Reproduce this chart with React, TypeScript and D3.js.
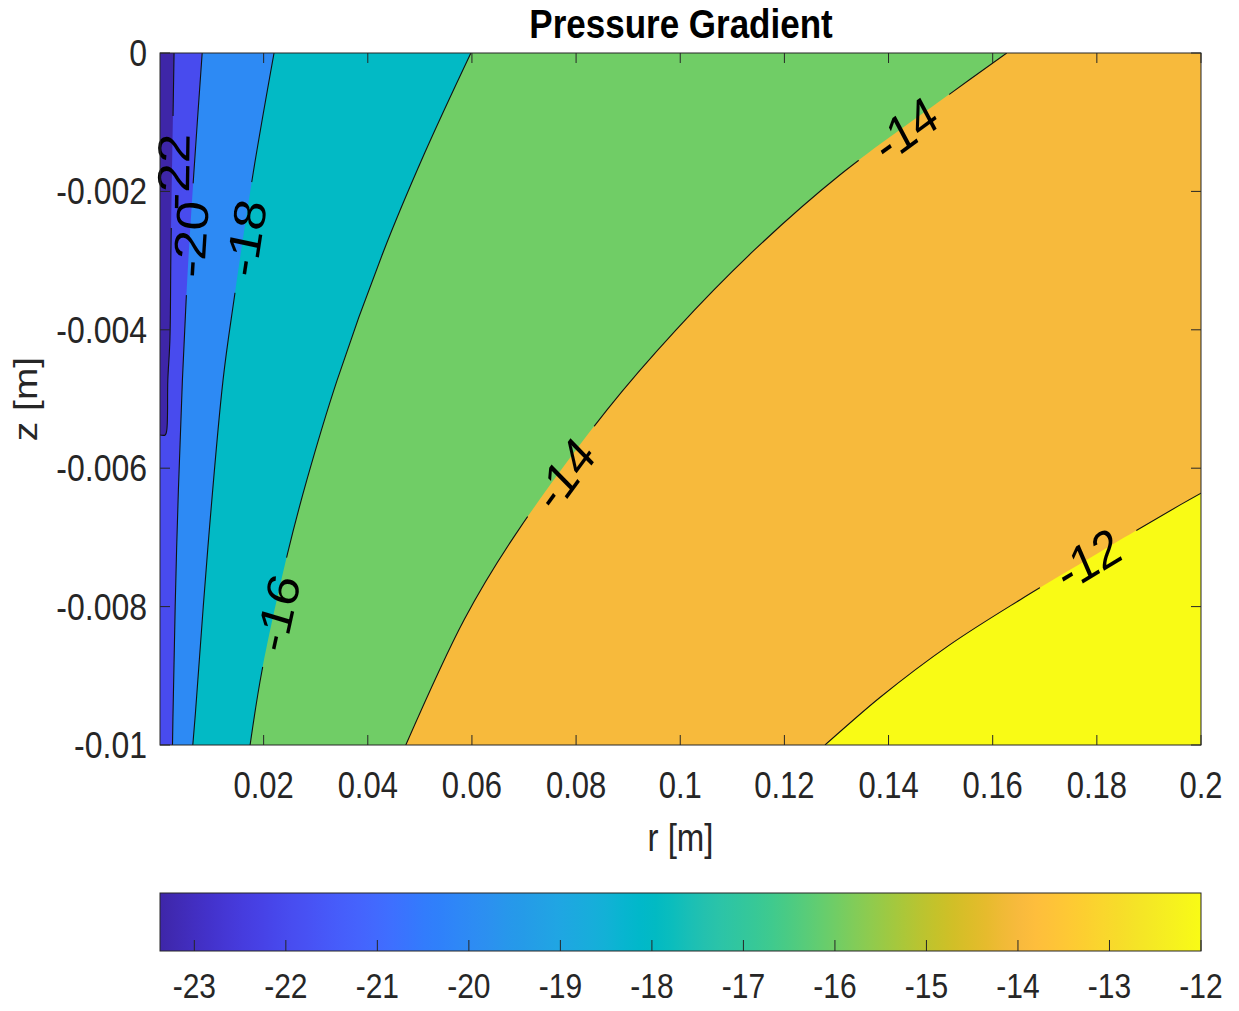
import React from "react";
import * as d3 from "d3";

// ---------- chart content ----------
const TITLE = "Pressure Gradient";
const X_LABEL = "r [m]";
const Y_LABEL = "z [m]";

const R_DOMAIN: [number, number] = [0.0001, 0.2];
const Z_DOMAIN: [number, number] = [-0.01, 0];
const R_TICKS = [0.02, 0.04, 0.06, 0.08, 0.1, 0.12, 0.14, 0.16, 0.18, 0.2];
const R_TICK_LABELS = ["0.02", "0.04", "0.06", "0.08", "0.1", "0.12", "0.14", "0.16", "0.18", "0.2"];
const Z_TICKS = [0, -0.002, -0.004, -0.006, -0.008, -0.01];
const Z_TICK_LABELS = ["0", "-0.002", "-0.004", "-0.006", "-0.008", "-0.01"];

const COLOR_LIMITS: [number, number] = [-23.375, -12];
const COLORBAR_TICKS = [-23, -22, -21, -20, -19, -18, -17, -16, -15, -14, -13, -12];
const COLORBAR_TICK_LABELS = ["-23", "-22", "-21", "-20", "-19", "-18", "-17", "-16", "-15", "-14", "-13", "-12"];

const LEVELS = [-22, -20, -18, -16, -14, -12];

// iso-lines of the pressure gradient, traced as [r, z] pairs
const ISO_M22: [number, number][] = [
  [0.0028, 0], [0.0022, -0.00285], [0.002, -0.00415], [0.0016, -0.00473],
  [0.0014, -0.00545], [0.0011, -0.00552], [0.0001, -0.00552],
];
const ISO_M20: [number, number][] = [
  [0.0082, 0], [0.0066, -0.00173], [0.0054, -0.00318], [0.0044, -0.00473],
  [0.0033, -0.00714], [0.0026, -0.00954], [0.0025, -0.01],
];
const ISO_M18: [number, number][] = [
  [0.022, 0], [0.018, -0.00173], [0.0143, -0.00357], [0.0122, -0.00473],
  [0.0093, -0.00714], [0.0069, -0.00954], [0.0064, -0.01],
];
const ISO_M16: [number, number][] = [
  [0.0598, 0], [0.0509, -0.00145], [0.0429, -0.00289], [0.0341, -0.00473],
  [0.0283, -0.00617], [0.0246, -0.00723], [0.0197, -0.00892], [0.0174, -0.01],
];
const ISO_M14: [number, number][] = [
  [0.1627, 0], [0.1518, -0.00059], [0.1307, -0.00176], [0.1142, -0.00285],
  [0.0992, -0.004], [0.0859, -0.00516], [0.0679, -0.00701], [0.0585, -0.00819],
  [0.0473, -0.01],
];
const ISO_M12: [number, number][] = [
  [0.2, -0.00636], [0.196, -0.00653], [0.1806, -0.00721], [0.1653, -0.0079],
  [0.1518, -0.00855], [0.1384, -0.00931], [0.1278, -0.01],
];
const ISO_LINES = [ISO_M22, ISO_M20, ISO_M18, ISO_M16, ISO_M14, ISO_M12];

// inline labels placed on the iso-lines
const LABEL_LEVELS = [-22, -20, -18, -16, -14, -14, -12];
const LABEL_R = [0.0026, 0.0059, 0.0165, 0.0226, 0.1432, 0.0777, 0.1783];
const LABEL_Z = [-0.00172, -0.00269, -0.00267, -0.00809, -0.0011, -0.00608, -0.00731];

// parula colormap (64 entries)
const PARULA: [number, number, number][] = [
  [0.2422, 0.1504, 0.6603], [0.2504, 0.165, 0.7076], [0.2578, 0.1818, 0.7511], [0.2647, 0.1978, 0.7952],
  [0.2706, 0.2147, 0.8364], [0.2751, 0.2342, 0.871], [0.2783, 0.2559, 0.8991], [0.2803, 0.2782, 0.9221],
  [0.2813, 0.3006, 0.9414], [0.281, 0.3228, 0.9579], [0.2795, 0.3447, 0.9717], [0.276, 0.3667, 0.9829],
  [0.2699, 0.3892, 0.9906], [0.2602, 0.4123, 0.9952], [0.244, 0.4358, 0.9988], [0.2206, 0.4603, 0.9973],
  [0.1963, 0.4847, 0.9892], [0.1834, 0.5074, 0.9798], [0.1786, 0.5289, 0.9682], [0.1764, 0.5499, 0.952],
  [0.1687, 0.5703, 0.9359], [0.154, 0.5902, 0.9218], [0.146, 0.6091, 0.9079], [0.138, 0.6276, 0.8973],
  [0.1248, 0.6459, 0.8883], [0.1113, 0.6635, 0.8763], [0.0952, 0.6798, 0.8598], [0.0689, 0.6948, 0.8394],
  [0.0297, 0.7082, 0.8163], [0.0036, 0.7203, 0.7917], [0.0067, 0.7312, 0.766], [0.0433, 0.7411, 0.7394],
  [0.0964, 0.75, 0.712], [0.1408, 0.7584, 0.6842], [0.1717, 0.767, 0.6554], [0.1938, 0.7758, 0.6251],
  [0.2161, 0.7843, 0.5923], [0.247, 0.7918, 0.5567], [0.2906, 0.7973, 0.5188], [0.3406, 0.8008, 0.4789],
  [0.3909, 0.8029, 0.4354], [0.4456, 0.8024, 0.3909], [0.5044, 0.7993, 0.348], [0.5616, 0.7942, 0.3045],
  [0.6174, 0.7876, 0.2612], [0.672, 0.7793, 0.2227], [0.7242, 0.7698, 0.191], [0.7738, 0.7598, 0.1646],
  [0.8203, 0.7498, 0.1535], [0.8634, 0.7406, 0.1596], [0.9035, 0.733, 0.1774], [0.9393, 0.7288, 0.21],
  [0.9728, 0.7298, 0.2394], [0.9956, 0.7434, 0.2371], [0.997, 0.7659, 0.2199], [0.9952, 0.7893, 0.2028],
  [0.9892, 0.8136, 0.1885], [0.9786, 0.8386, 0.1766], [0.9676, 0.8639, 0.1643], [0.961, 0.889, 0.1537],
  [0.9597, 0.9135, 0.1423], [0.9628, 0.9373, 0.1265], [0.9691, 0.9606, 0.1064], [0.9769, 0.9839, 0.0805],
];

// ---------- layout ----------
const WIDTH = 1239;
const HEIGHT = 1011;
const PLOT = { l: 160, r: 1201, t: 53, b: 745 };
const CBAR = { l: 160, r: 1201, t: 893, b: 951 };
const STRETCH = 1.18; // glyphs are drawn slightly tall
const FONT = "'Liberation Sans', Arial, Helvetica, sans-serif";
const INK = "#262626";
const TICK = 10;

const x = d3.scaleLinear().domain(R_DOMAIN).range([PLOT.l, PLOT.r]);
const y = d3.scaleLinear().domain(Z_DOMAIN).range([PLOT.b, PLOT.t]);
const cx = d3.scaleLinear().domain(COLOR_LIMITS).range([CBAR.l, CBAR.r]);

const parulaHex = PARULA.map(([r, g, b]) => d3.rgb(r * 255, g * 255, b * 255).formatHex());
const cmap = d3.piecewise(d3.interpolateRgb, parulaHex);
const tOf = d3.scaleLinear().domain(COLOR_LIMITS).range([0, 1]).clamp(true);
const colorAt = (v: number) => cmap(tOf(v));

const lineGen = d3
  .line<[number, number]>()
  .x((d) => x(d[0]))
  .y((d) => y(d[1]))
  .curve(d3.curveCatmullRom.alpha(0.5));

const PW = PLOT.r - PLOT.l;
const PH = PLOT.b - PLOT.t;
const PERIM = 2 * (PW + PH);

// clockwise position of a boundary point, starting at the top-left corner
function perimPos(px: number, py: number): number {
  const e = 0.6;
  if (Math.abs(py - PLOT.t) < e) return px - PLOT.l;
  if (Math.abs(px - PLOT.r) < e) return PW + (py - PLOT.t);
  if (Math.abs(py - PLOT.b) < e) return PW + PH + (PLOT.r - px);
  return 2 * PW + PH + (PLOT.b - py);
}
const CORNERS: [number, number, number][] = [
  [0, PLOT.l, PLOT.t],
  [PW, PLOT.r, PLOT.t],
  [PW + PH, PLOT.r, PLOT.b],
  [2 * PW + PH, PLOT.l, PLOT.b],
];

// polygon covering the higher-valued side of an iso-line
function regionPath(pts: [number, number][]): string {
  const first = pts[0];
  const last = pts[pts.length - 1];
  const pS = perimPos(x(first[0]), y(first[1]));
  let pE = perimPos(x(last[0]), y(last[1]));
  if (pE < pS) pE += PERIM;
  const cands: [number, number, number][] = [];
  for (const [p, cxp, cyp] of CORNERS) {
    for (const q of [p, p + PERIM]) {
      if (q > pS && q < pE) cands.push([q, cxp, cyp]);
    }
  }
  cands.sort((a, b) => b[0] - a[0]);
  return (lineGen(pts) || "") + cands.map((c) => `L${c[1]},${c[2]}`).join("") + "Z";
}

function labelPose(pts: [number, number][], r: number, z: number) {
  const px = pts.map((p) => [x(p[0]), y(p[1])]);
  const lx = x(r);
  const ly = y(z);
  let best = 0;
  let bd = Infinity;
  for (let i = 0; i < px.length - 1; i++) {
    const [ax, ay] = px[i];
    const [bx, by] = px[i + 1];
    const vx = bx - ax;
    const vy = by - ay;
    const t = Math.max(0, Math.min(1, ((lx - ax) * vx + (ly - ay) * vy) / (vx * vx + vy * vy)));
    const d = Math.hypot(ax + t * vx - lx, ay + t * vy - ly);
    if (d < bd) {
      bd = d;
      best = i;
    }
  }
  let dx = px[best + 1][0] - px[best][0];
  let dy = px[best + 1][1] - px[best][1];
  if (dx < 0 || (dx === 0 && dy > 0)) {
    dx = -dx;
    dy = -dy;
  }
  return {
    lx,
    ly,
    angle: (Math.atan2(dy, dx) * 180) / Math.PI,
    angleText: (Math.atan2(dy / STRETCH, dx) * 180) / Math.PI,
  };
}

function Txt(props: {
  x: number;
  y: number;
  size: number;
  anchor?: string;
  rotate?: number;
  weight?: string;
  fill?: string;
  children: string;
}) {
  const { x: tx, y: ty, size, anchor = "middle", rotate = 0, weight = "normal", fill = INK } = props;
  return (
    <text
      transform={`translate(${tx},${ty}) scale(1,${STRETCH}) rotate(${rotate})`}
      fontFamily={FONT}
      fontSize={size}
      fontWeight={weight}
      textAnchor={anchor}
      fill={fill}
    >
      {props.children}
    </text>
  );
}

export default function App() {
  const labels = LABEL_LEVELS.map((lev, i) => {
    const li = LEVELS.indexOf(lev);
    return { lev, li, ...labelPose(ISO_LINES[li], LABEL_R[i], LABEL_Z[i]) };
  });

  return (
    <svg
      width={WIDTH}
      height={HEIGHT}
      viewBox={`0 0 ${WIDTH} ${HEIGHT}`}
      style={{ position: "absolute", left: 0, top: 0, background: "#fff", display: "block" }}
    >
      <defs>
        <clipPath id="plot-clip">
          <rect x={PLOT.l} y={PLOT.t} width={PW} height={PH} />
        </clipPath>
        <linearGradient id="parula-grad" x1="0" x2="1" y1="0" y2="0">
          {parulaHex.map((c, i) => (
            <stop key={i} offset={i / (parulaHex.length - 1)} stopColor={c} />
          ))}
        </linearGradient>
        {LEVELS.map((lev, li) => (
          <mask key={lev} id={`gap-${li}`} maskUnits="userSpaceOnUse" x={0} y={0} width={WIDTH} height={HEIGHT}>
            <rect x={0} y={0} width={WIDTH} height={HEIGHT} fill="#fff" />
            {labels
              .filter((l) => l.li === li)
              .map((l, k) => (
                <rect
                  key={k}
                  x={-56}
                  y={-14}
                  width={112}
                  height={28}
                  fill="#000"
                  transform={`translate(${l.lx},${l.ly}) rotate(${l.angle})`}
                />
              ))}
          </mask>
        ))}
      </defs>

      {/* title */}
      <Txt x={681} y={38} size={35} weight="bold" fill="#000">
        {TITLE}
      </Txt>

      {/* filled contour bands */}
      <g clipPath="url(#plot-clip)">
        <rect x={PLOT.l} y={PLOT.t} width={PW} height={PH} fill={colorAt(COLOR_LIMITS[0])} />
        {ISO_LINES.map((pts, i) => (
          <path key={i} d={regionPath(pts)} fill={colorAt(LEVELS[i])} stroke="none" />
        ))}
        {ISO_LINES.map((pts, i) => (
          <path
            key={`l${i}`}
            d={lineGen(pts) || ""}
            fill="none"
            stroke="#111"
            strokeWidth={1.1}
            mask={`url(#gap-${i})`}
          />
        ))}
      </g>

      {/* inline level labels */}
      {labels.map((l, i) => (
        <text
          key={i}
          transform={`translate(${l.lx},${l.ly}) scale(1,${STRETCH}) rotate(${l.angleText})`}
          fontFamily={FONT}
          fontSize={45}
          textAnchor="middle"
          dy="0.36em"
          fill="#000"
        >
          {String(l.lev)}
        </text>
      ))}

      {/* ticks */}
      <g stroke={INK} strokeWidth={1}>
        {R_TICKS.map((t, i) => (
          <g key={i}>
            <line x1={x(t)} x2={x(t)} y1={PLOT.b} y2={PLOT.b - TICK} />
            <line x1={x(t)} x2={x(t)} y1={PLOT.t} y2={PLOT.t + TICK} />
          </g>
        ))}
        {Z_TICKS.map((t, i) => (
          <g key={i}>
            <line x1={PLOT.l} x2={PLOT.l + TICK} y1={y(t)} y2={y(t)} />
            <line x1={PLOT.r} x2={PLOT.r - TICK} y1={y(t)} y2={y(t)} />
          </g>
        ))}
      </g>
      <rect x={PLOT.l} y={PLOT.t} width={PW} height={PH} fill="none" stroke={INK} strokeWidth={1} />

      {/* tick labels */}
      {R_TICKS.map((t, i) => (
        <Txt key={i} x={x(t)} y={798} size={31}>
          {R_TICK_LABELS[i]}
        </Txt>
      ))}
      {Z_TICKS.map((t, i) => (
        <Txt key={i} x={147} y={y(t) + 13} size={32} anchor="end">
          {Z_TICK_LABELS[i]}
        </Txt>
      ))}

      {/* axis labels */}
      <Txt x={(PLOT.l + PLOT.r) / 2} y={851} size={33}>
        {X_LABEL}
      </Txt>
      <Txt x={37} y={(PLOT.t + PLOT.b) / 2} size={33} rotate={-90}>
        {Y_LABEL}
      </Txt>

      {/* colorbar */}
      <rect
        x={CBAR.l}
        y={CBAR.t}
        width={CBAR.r - CBAR.l}
        height={CBAR.b - CBAR.t}
        fill="url(#parula-grad)"
        stroke={INK}
        strokeWidth={1}
      />
      <g stroke={INK} strokeWidth={1}>
        {COLORBAR_TICKS.map((t, i) => (
          <line key={i} x1={cx(t)} x2={cx(t)} y1={CBAR.b} y2={CBAR.b - 11} />
        ))}
      </g>
      {COLORBAR_TICKS.map((t, i) => (
        <Txt key={i} x={cx(t)} y={998} size={30}>
          {COLORBAR_TICK_LABELS[i]}
        </Txt>
      ))}
    </svg>
  );
}
